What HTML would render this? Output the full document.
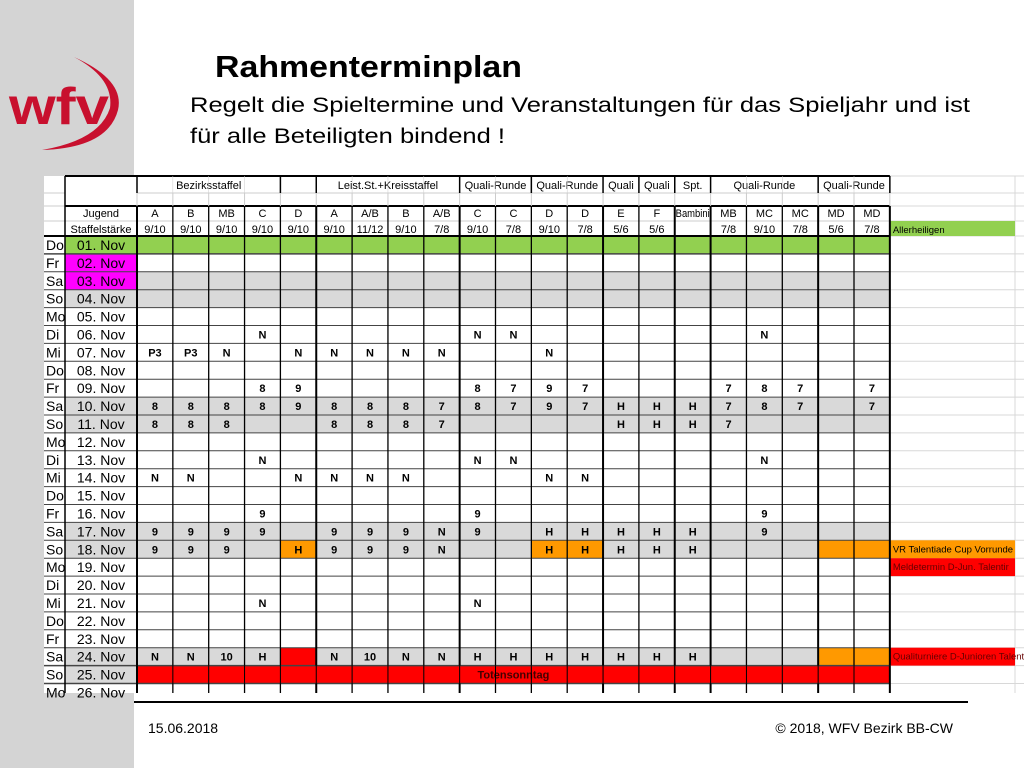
<!DOCTYPE html>
<html><head><meta charset="utf-8">
<style>
html,body{margin:0;padding:0;background:#fff;}
body{width:1024px;height:768px;position:relative;overflow:hidden;font-family:"Liberation Sans",Arial,sans-serif;}
svg text{font-family:"Liberation Sans",Arial,sans-serif;}
</style></head>
<body>
<svg id="s" width="1024" height="768" viewBox="0 0 1024 768" xmlns="http://www.w3.org/2000/svg">
  <rect x="0" y="0" width="134" height="768" fill="#d4d4d4"/>
  <g>
    <text x="9" y="124" font-size="52" font-weight="bold" fill="#c8102e" textLength="100" lengthAdjust="spacingAndGlyphs">wfv</text>
    <path d="M74,57 Q125,80 118,110 Q108,148 42,150 Q100,140 110,108 Q114,78 74,57 Z" fill="#c8102e"/>
  </g>
  <text x="215" y="77" font-size="31" font-weight="bold" fill="#000" textLength="307" lengthAdjust="spacingAndGlyphs">Rahmenterminplan</text>
  <text x="190" y="112" font-size="21" fill="#000" textLength="780" lengthAdjust="spacingAndGlyphs">Regelt die Spieltermine und Veranstaltungen für das Spieljahr und ist</text>
  <text x="190" y="143" font-size="21" fill="#000" textLength="315" lengthAdjust="spacingAndGlyphs">für alle Beteiligten bindend !</text>
  <g id="tbl"></g>
  <line x1="134" y1="702" x2="968" y2="702" stroke="#000" stroke-width="2"/>
  <text x="148" y="733" font-size="14" fill="#000">15.06.2018</text>
  <text x="953" y="733" font-size="14" fill="#000" text-anchor="end">© 2018, WFV Bezirk BB-CW</text>
</svg>
<script>
const groupHeaders = [["Bezirksstaffel",0,4],["",4,5],["Leist.St.+Kreisstaffel",5,9],["Quali-Runde",9,11],["Quali-Runde",11,13],["Quali",13,14],["Quali",14,15],["Spt.",15,16],["Quali-Runde",16,19],["Quali-Runde",19,21]];
const colClasses = ["A","B","MB","C","D","A","A/B","B","A/B","C","C","D","D","E","F","Bambini","MB","MC","MC","MD","MD"];
const colStrength = ["9/10","9/10","9/10","9/10","9/10","9/10","11/12","9/10","7/8","9/10","7/8","9/10","7/8","5/6","5/6","","7/8","9/10","7/8","5/6","7/8"];
const weekdays = ["Do","Fr","Sa","So","Mo","Di","Mi","Do","Fr","Sa","So","Mo","Di","Mi","Do","Fr","Sa","So","Mo","Di","Mi","Do","Fr","Sa","So","Mo"];
const dates = ["01. Nov","02. Nov","03. Nov","04. Nov","05. Nov","06. Nov","07. Nov","08. Nov","09. Nov","10. Nov","11. Nov","12. Nov","13. Nov","14. Nov","15. Nov","16. Nov","17. Nov","18. Nov","19. Nov","20. Nov","21. Nov","22. Nov","23. Nov","24. Nov","25. Nov","26. Nov"];
const cellValues = [
 [],[],[],[],[],
 ["","","","N","","","","","","N","N","","","","","","","N"],
 ["P3","P3","N","","N","N","N","N","N","","","N"],
 [],
 ["","","","8","9","","","","","8","7","9","7","","","","7","8","7","","7"],
 ["8","8","8","8","9","8","8","8","7","8","7","9","7","H","H","H","7","8","7","","7"],
 ["8","8","8","","","8","8","8","7","","","","","H","H","H","7"],
 [],
 ["","","","N","","","","","","N","N","","","","","","","N"],
 ["N","N","","","N","N","N","N","","","","N","N"],
 [],
 ["","","","9","","","","","","9","","","","","","","","9"],
 ["9","9","9","9","","9","9","9","N","9","","H","H","H","H","H","","9"],
 ["9","9","9","","H","9","9","9","N","","","H","H","H","H","H"],
 [],[],
 ["","","","N","","","","","","N"],
 [],[],
 ["N","N","10","H","","N","10","N","N","H","H","H","H","H","H","H"],
 [],[]
];
const cellColors = {"17-4":"#ff9900","17-11":"#ff9900","17-12":"#ff9900","17-19":"#ff9900","17-20":"#ff9900","23-4":"#ff0000","23-19":"#ff9900","23-20":"#ff9900"};
const notes = [[-1,"Allerheiligen","#92d050","#000"],[17,"VR Talentiade Cup Vorrunde","#ff9900","#000"],[18,"Meldetermin D-Jun. Talentir","#ff0000","#600"],[23,"Qualiturniere D-Junioren Talent","#ff0000","#600"]];

const NS="http://www.w3.org/2000/svg";
const g=document.getElementById('tbl');
function el(tag,attrs,txt){const e=document.createElementNS(NS,tag);for(const k in attrs)e.setAttribute(k,attrs[k]);if(txt!==undefined)e.textContent=txt;g.appendChild(e);return e;}
const X0=137,CW=35.85,DAYX=44,DATEX=65,END=X0+21*CW;
const colX=i=>X0+i*CW;
const rowY=r=>236+r*17.9;
const RH=17.9, CLIPY=693;
let bg=el('rect',{x:DAYX,y:176,width:1024-DAYX,height:CLIPY-176,fill:'#fff'});


for(let r=0;r<=26;r++){let y=rowY(r);if(y>CLIPY)break;el('line',{x1:END,y1:y,x2:1024,y2:y,stroke:'#d8d8d8','stroke-width':1});}
[176,193,206,221].forEach(y=>el('line',{x1:END,y1:y,x2:1024,y2:y,stroke:'#d8d8d8','stroke-width':1}));
el('line',{x1:1015,y1:176,x2:1015,y2:CLIPY,stroke:'#d8d8d8','stroke-width':1});
for(let r=0;r<26;r++){
  const y=rowY(r), h=Math.min(RH,CLIPY-y);
  const we=(weekdays[r]==="Sa"||weekdays[r]==="So");
  let rowFill = r===0?'#92d050':(we?'#d9d9d9':'#fff');
  let rr=el('rect',{x:DATEX,y:y,width:END-DATEX,height:h,fill:rowFill});
  
  
  if(r===1||r===2){let m=el('rect',{x:DATEX,y:y,width:X0-DATEX,height:h,fill:'#ff00ff'});}
  const vals=cellValues[r]||[];
  for(let c=0;c<21;c++){
    const col=cellColors[r+'-'+c];
    if(col){let cr=el('rect',{x:colX(c),y:y,width:CW,height:h,fill:col});}
    if(vals[c]){let t=el('text',{x:colX(c)+CW/2,y:y+13,'font-size':11,'font-weight':'bold','text-anchor':'middle',fill:'#000'},vals[c]);}
  }
  if(r===24){let t=el('rect',{x:X0,y:y,width:END-X0,height:h,fill:'#ff0000'});
    let tt=el('text',{x:(X0+END)/2,y:y+13,'font-size':11,'font-weight':'bold','text-anchor':'middle',fill:'#400'},'Totensonntag');}
  let d=el('text',{x:DAYX+2,y:y+14,'font-size':14,fill:'#000'},weekdays[r]);
  let dt=el('text',{x:(DATEX+X0)/2,y:y+14,'font-size':14,'text-anchor':'middle',fill:'#000'},dates[r]);
}
notes.forEach(n=>{const y=n[0]<0?221:rowY(n[0]);let nr=el('rect',{x:END,y:y,width:1015-END,height:n[0]<0?15:RH,fill:n[2]});
  let nt=el('text',{x:END+3,y:y+12,'font-size':9.5,fill:n[3]},n[1]);});
groupHeaders.forEach(h=>{if(!h[0])return;let t=el('text',{x:(colX(h[1])+colX(h[2]))/2,y:189,'font-size':11,'text-anchor':'middle',fill:'#000'},h[0]);});
colClasses.forEach((c,i)=>{let t=el('text',{x:colX(i)+CW/2,y:217,'font-size':11,'text-anchor':'middle',fill:'#000'},c);if(c==='Bambini'){t.setAttribute('textLength','34');t.setAttribute('lengthAdjust','spacingAndGlyphs');}});
colStrength.forEach((c,i)=>{let t=el('text',{x:colX(i)+CW/2,y:233,'font-size':11,'text-anchor':'middle',fill:'#000'},c);});
let j=el('text',{x:(DATEX+X0)/2,y:217,'font-size':11,'text-anchor':'middle'},'Jugend');
let st=el('text',{x:(DATEX+X0)/2,y:233,'font-size':11,'text-anchor':'middle'},'Staffelstärke');
const hl=(x1,x2,y,w,c)=>el('line',{x1:x1,y1:y,x2:x2,y2:y,stroke:c||'#000','stroke-width':w||1});
const vl=(x,y1,y2,w,c)=>el('line',{x1:x,y1:y1,x2:x,y2:y2,stroke:c||'#000','stroke-width':w||1});
hl(DATEX,END,176,2); hl(X0,END,193,1,'#ccc'); hl(DATEX,END,206,2); hl(DATEX,END,221,1,'#ccc'); hl(DAYX,END,236,2);
hl(DAYX,DATEX,193,1,'#ccc');hl(DAYX,DATEX,206,1,'#ccc');hl(DAYX,DATEX,221,1,'#ccc');
for(let r=1;r<=26;r++){const y=rowY(r);if(y>CLIPY)break;hl(DAYX,END,y,r===1||r===24||r===25?1.5:1,'#444');}
vl(DATEX,176,CLIPY,1.5);
const thick=[0,5,9,13,15,16,19,21];
for(let i=0;i<=21;i++){const x=colX(i);const t=thick.includes(i);
  const isGroupB=groupHeaders.some(h=>h[1]===i||h[2]===i);
  vl(x,176,193,isGroupB?1.5:0.5,isGroupB?'#000':'#ccc');
  vl(x,193,206,1,'#ccc');
  vl(x,206,rowY(24),t?2:1.3);
  vl(x,rowY(24),rowY(25),(i===0||i===21)?2:0,'#000');
  vl(x,rowY(25),CLIPY,t?2:1.3);
}
</script>
</body></html>
